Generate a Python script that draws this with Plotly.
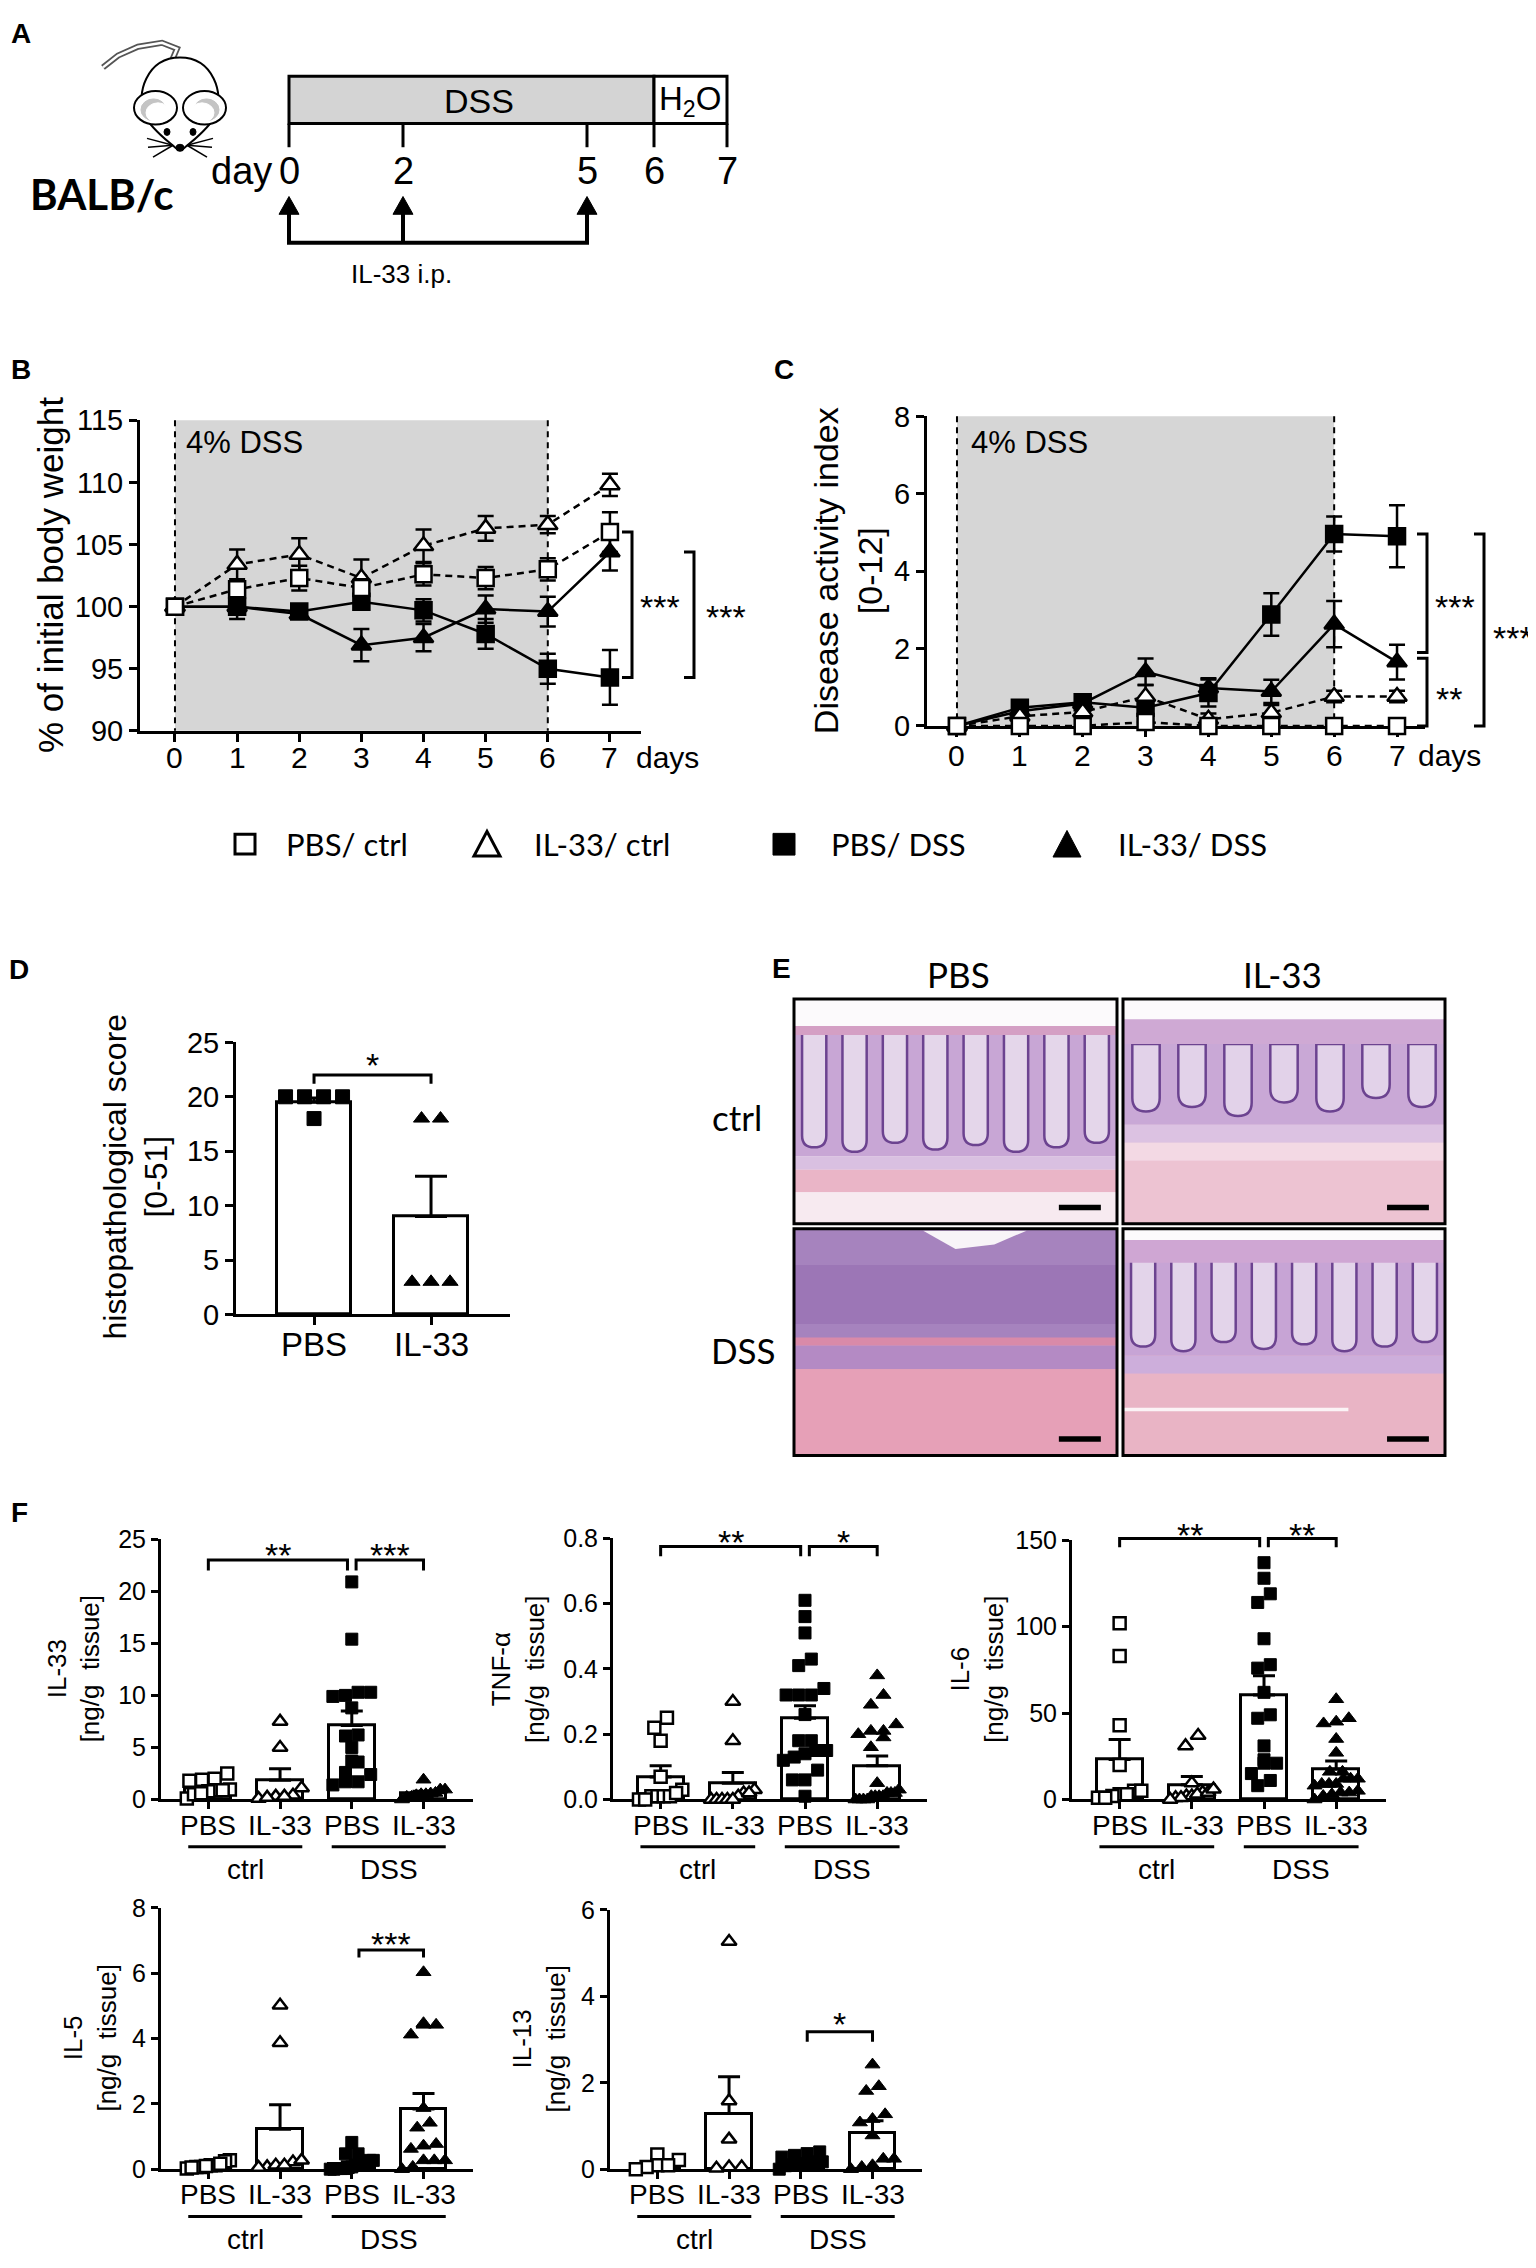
import plotly.graph_objects as go

# ===================== DATA =====================
days = [0, 1, 2, 3, 4, 5, 6, 7]
day_labels = ['0', '1', '2', '3', '4', '5', '6', '7']

# B: % of initial body weight (mean, SEM)
bw_pbs_ctrl = [100, 101.4, 102.3, 101.5, 102.6, 102.3, 103.0, 106.0]
bw_pbs_ctrl_sem = [0, 0.5, 1.0, 0.7, 0.9, 0.9, 0.9, 1.6]
bw_il33_ctrl = [100, 103.4, 104.2, 102.3, 104.9, 106.3, 106.6, 109.8]
bw_il33_ctrl_sem = [0, 1.2, 1.3, 1.5, 1.3, 1.0, 0.7, 0.9]
bw_pbs_dss = [100, 100.0, 99.6, 100.4, 99.7, 97.8, 95.0, 94.3]
bw_pbs_dss_sem = [0, 1.0, 0.3, 0.3, 0.9, 1.2, 1.2, 2.2]
bw_il33_dss = [100, 100.0, 99.4, 96.9, 97.5, 99.8, 99.6, 104.4]
bw_il33_dss_sem = [0, 0.4, 0.3, 1.3, 1.1, 1.1, 1.2, 1.5]

# C: disease activity index (mean, SEM)
dai_pbs_ctrl = [0, 0, 0, 0.1, 0, 0, 0, 0]
dai_pbs_ctrl_sem = [0, 0, 0, 0.1, 0, 0, 0, 0]
dai_il33_ctrl = [0, 0.25, 0.36, 0.76, 0.17, 0.34, 0.76, 0.76]
dai_il33_ctrl_sem = [0, 0.1, 0.15, 0.3, 0.15, 0.2, 0.15, 0.15]
dai_pbs_dss = [0, 0.47, 0.61, 0.47, 0.85, 2.88, 4.96, 4.9]
dai_pbs_dss_sem = [0, 0.1, 0.2, 0.15, 0.35, 0.55, 0.45, 0.8]
dai_il33_dss = [0, 0.38, 0.58, 1.4, 0.98, 0.89, 2.63, 1.65]
dai_il33_dss_sem = [0, 0.1, 0.2, 0.34, 0.25, 0.3, 0.6, 0.45]

# D: histopathological score
hist_labels = ['PBS', 'IL-33']
hist_pbs = [20, 20, 20, 20, 18]
hist_il33 = [18, 18, 3, 3, 3]
hist_mean = [19.5, 9.0]
hist_sem = [0.4, 3.7]

# F: cytokines [ng/g tissue]
f_labels = ['PBS', 'IL-33', 'PBS', 'IL-33']

il33_pbs_ctrl = [2.5, 1.9, 1.8, 2.0, 0.9, 0.8, 0.95, 0.9, 0.1, 0.5, 0.6]
il33_il33_ctrl = [7.5, 5.0, 1.1, 0.4, 0.3, 0.3, 0.1, 0.2]
il33_pbs_dss = [20.9, 15.4, 10.0, 9.9, 10.3, 10.3, 8.8, 6.1, 6.2, 5.0, 3.7, 3.6, 2.6, 2.4, 1.7, 1.4, 1.7]
il33_il33_dss = [1.9, 0.95, 0.95, 0.57, 0.63, 0.4, 0.25, 0.25, 0.0, 0.5, 0.5]
il33_mean = [1.1, 1.85, 7.1, 0.62]
il33_sem = [0.25, 1.1, 1.4, 0.18]

tnf_pbs_ctrl = [0.25, 0.22, 0.18, 0.07, 0.03, 0.01, 0.01, 0.01, 0.01, 0.0, 0.0, 0.02]
tnf_il33_ctrl = [0.30, 0.18, 0.03, 0.02, 0.0, 0.01, 0.02, 0.0, 0.0, 0.0, 0.0]
tnf_pbs_dss = [0.61, 0.56, 0.51, 0.41, 0.43, 0.34, 0.32, 0.32, 0.32, 0.26, 0.18, 0.15, 0.14, 0.15,
               0.18, 0.12, 0.13, 0.09, 0.06, 0.06, 0.01]
tnf_il33_dss = [0.38, 0.32, 0.29, 0.23, 0.21, 0.20, 0.21, 0.19, 0.16, 0.03, 0.05, 0.02, 0.01, 0.02,
                0.02, 0.01, 0.01, 0.01, 0.0, 0.0, 0.0, 0.0]
tnf_mean = [0.069, 0.05, 0.249, 0.103]
tnf_sem = [0.034, 0.033, 0.038, 0.03]

il6_pbs_ctrl = [102, 83, 43, 20, 5, 3, 1, 3, 5, 2, 1]
il6_il33_ctrl = [31, 37, 9.5, 4, 2, 2, 3, 4, 6, 1, 1, 0]
il6_pbs_dss = [137, 128, 119, 114, 93, 78, 76, 62, 49, 47, 31, 21, 23, 21, 15, 11, 8]
il6_il33_dss = [58, 45, 44, 47, 35, 27, 16, 16, 12, 12, 12, 9, 9, 9, 8, 4, 2, 4, 0, 3, 5]
il6_mean = [23.2, 8.5, 60.4, 17.5]
il6_sem = [11.5, 4.8, 11.2, 4.7]

il5_pbs_ctrl = [0.27, 0.24, 0.12, 0.07, 0.12, 0.17, 0.07, 0.02, 0.05, 0.1]
il5_il33_ctrl = [5.02, 3.87, 0.22, 0.27, 0.07, 0.12, 0.12, 0.05]
il5_pbs_dss = [0.82, 0.47, 0.47, 0.27, 0.27, 0.12, 0.17, 0.12, 0.12, 0.02, 0.0, 0.02, 0.07, 0.05, 0.02, 0.0]
il5_il33_dss = [6.03, 4.42, 4.12, 4.42, 4.47, 1.87, 1.27, 1.42, 0.72, 0.62, 0.77, 0.27, 0.27, 0.27, 0.07, 0.0]
il5_mean = [0.12, 1.22, 0.17, 1.84]
il5_sem = [0.03, 0.75, 0.06, 0.48]

il13_pbs_ctrl = [0.34, 0.21, 0.09, 0.05, 0.09, 0.0]
il13_il33_ctrl = [5.27, 1.58, 0.69, 0.05, 0.02, 0.05]
il13_pbs_dss = [0.32, 0.36, 0.4, 0.28, 0.13, 0.13, 0.17, 0.15, 0.17, 0.0, 0.1, 0.08]
il13_il33_dss = [2.42, 1.92, 1.81, 1.27, 1.08, 1.16, 0.78, 0.24, 0.24, 0.05, 0.09, 0.0]
il13_mean = [0.11, 1.29, 0.17, 0.85]
il13_sem = [0.04, 0.85, 0.04, 0.27]

legend_labels = ['PBS/ ctrl', 'IL-33/ ctrl', 'PBS/ DSS', 'IL-33/ DSS']

# ===================== HELPERS =====================
W, H = 1528, 2260
OFF = 8


def X(p):
    return (p - OFF) / W


def Y(p):
    return 1 - (p - OFF) / H


ARIAL = "Liberation Sans, Arial, Helvetica, sans-serif"
CAL = "Lato, Carlito, Calibri, sans-serif"

shapes = []
annotations = []
traces = []
layout_axes = {}
AX = {}


def text(px, py, s, size, family=ARIAL, bold=False, xanchor='center', yanchor='middle', angle=0):
    annotations.append(dict(x=X(px), y=Y(py), xref='paper', yref='paper',
                            text=('<b>' + s + '</b>') if bold else s, showarrow=False,
                            font=dict(family=family, size=size, color='black'),
                            xanchor=xanchor, yanchor=yanchor, textangle=angle))


def stars(px, py, s, size=34):
    text(px, py + 0.22 * size, s, size)


def line(x0, y0, x1, y1, w=3, color='black', dash=None, layer='above'):
    ln = dict(color=color, width=w)
    if dash:
        ln['dash'] = dash
    shapes.append(dict(type='line', xref='paper', yref='paper', x0=X(x0), y0=Y(y0), x1=X(x1), y1=Y(y1),
                       line=ln, layer=layer))


def rect(x0, y0, x1, y1, fill, edge=None, lw=0, layer='above'):
    shapes.append(dict(type='rect', xref='paper', yref='paper', x0=X(x0), x1=X(x1), y0=Y(y1), y1=Y(y0),
                       fillcolor=fill, line=dict(color=edge if edge else 'rgba(0,0,0,0)', width=lw),
                       layer=layer))


def ellipse(x0, y0, x1, y1, fill, edge='black', lw=2):
    shapes.append(dict(type='circle', xref='paper', yref='paper', x0=X(x0), x1=X(x1), y0=Y(y1), y1=Y(y0),
                       fillcolor=fill, line=dict(color=edge, width=lw)))


def path(pts, fill=None, w=3, color='black', close=True, layer='above'):
    d = 'M' + ' L'.join(f'{X(a):.5f},{Y(b):.5f}' for a, b in pts) + (' Z' if close else '')
    shapes.append(dict(type='path', xref='paper', yref='paper', path=d,
                       fillcolor=fill if fill else 'rgba(0,0,0,0)',
                       line=dict(color=color, width=w), layer=layer))


def rawpath(d, fill=None, w=2, color='black'):
    shapes.append(dict(type='path', xref='paper', yref='paper', path=d,
                       fillcolor=fill if fill else 'rgba(0,0,0,0)', line=dict(color=color, width=w)))


def add_axes(n, xdom, ydom, xr, yr, xtv, ytv, ytt, yfont, ticklen=8):
    AX[n] = dict(x=xdom, y=ydom, xr=xr, yr=yr)
    s = '' if n == 1 else str(n)
    common = dict(showline=True, linecolor='black', linewidth=3, ticks='outside', ticklen=ticklen,
                  tickwidth=3, tickcolor='black', showgrid=False, zeroline=False, fixedrange=True,
                  layer='below traces')
    layout_axes['xaxis' + s] = dict(domain=[X(xdom[0]), X(xdom[1])], range=xr, anchor='y' + s,
                                    tickmode='array', tickvals=xtv, showticklabels=False, **common)
    layout_axes['yaxis' + s] = dict(domain=[Y(ydom[1]), Y(ydom[0])], range=yr, anchor='x' + s,
                                    tickmode='array', tickvals=ytv, ticktext=ytt,
                                    tickfont=dict(family=ARIAL, size=yfont, color='black'), **common)


def dx(n, v):
    p0, p1 = AX[n]['x']
    r0, r1 = AX[n]['xr']
    return p0 + (v - r0) / (r1 - r0) * (p1 - p0)


def dy(n, v):
    top, bot = AX[n]['y']
    r0, r1 = AX[n]['yr']
    return bot - (v - r0) / (r1 - r0) * (bot - top)


def xlabels(n, vals, labels, ypx, size):
    for v, lab in zip(vals, labels):
        text(dx(n, v), ypx, lab, size)


def swarm(vals, n, marker_px=12, step_px=None, maxhalf=0.3):
    top, bot = AX[n]['y']
    r0, r1 = AX[n]['yr']
    ppu = (bot - top) / (r1 - r0)
    p0, p1 = AX[n]['x']
    cpx = (p1 - p0) / (AX[n]['xr'][1] - AX[n]['xr'][0])
    bin_units = marker_px * 0.95 / ppu
    step = (step_px if step_px else marker_px * 1.05) / cpx
    order = sorted(range(len(vals)), key=lambda i: vals[i])
    bins, cur = [], []
    for i in order:
        if cur and vals[i] - vals[cur[0]] > bin_units:
            bins.append(cur)
            cur = []
        cur.append(i)
    if cur:
        bins.append(cur)
    offs = [0.0] * len(vals)
    for b in bins:
        k = len(b)
        st = step
        if k > 1 and (k - 1) * step / 2 > maxhalf:
            st = 2 * maxhalf / (k - 1)
        for j, i in enumerate(b):
            offs[i] = (j - (k - 1) / 2) * st
    return offs


# ===================== PANEL A (schematic) =====================
text(9, 18, 'A', 28, bold=True, xanchor='left')
# mouse
path([(172, 45), (177, 33), (162, 27), (138, 31), (118, 40), (103, 52)], w=6, color='#555555', close=False)
path([(172, 45), (177, 33), (162, 27), (138, 31), (118, 40), (103, 52)], w=2.5, color='white', close=False)
rawpath(f"M{X(180)},{Y(42)} C{X(214)},{Y(42)} {X(224)},{Y(80)} {X(216)},{Y(100)} "
        f"C{X(208)},{Y(116)} {X(190)},{Y(128)} {X(182)},{Y(136)} L{X(178)},{Y(136)} "
        f"C{X(170)},{Y(128)} {X(152)},{Y(116)} {X(144)},{Y(100)} C{X(136)},{Y(80)} {X(146)},{Y(42)} {X(180)},{Y(42)} Z",
        fill='white', w=2)
ellipse(134, 76, 177, 110, 'white', lw=2)
ellipse(183, 76, 226, 110, 'white', lw=2)
ellipse(141, 84, 166, 106, '#c4c4c4', edge='#c4c4c4', lw=1)
ellipse(194, 84, 219, 106, '#c4c4c4', edge='#c4c4c4', lw=1)
ellipse(146, 88, 170, 108, 'white', edge='white', lw=1)
ellipse(190, 88, 214, 108, 'white', edge='white', lw=1)
ellipse(164, 114, 170, 121, 'black', lw=1)
ellipse(190, 114, 196, 121, 'black', lw=1)
ellipse(176, 130, 184, 137, 'black', lw=1)
for (ax_, ay_) in [(147, 124), (148, 133), (153, 143)]:
    line(173, 131, ax_, ay_, 1.5)
    line(187, 131, 360 - ax_, ay_, 1.5)
text(102, 180, 'BALB/c', 42, family=CAL, bold=True)

tl_days = ['0', '2', '5', '6', '7']
tl_px = [289, 403, 587, 654, 727]
rect(289, 61, 654, 109, '#d4d4d4', 'black', 3)
rect(654, 61, 727, 109, 'white', 'black', 3)
text(479, 86, 'DSS', 34)
text(690, 86, 'H<sub>2</sub>O', 33)
for xp in tl_px:
    line(xp, 109, xp, 133, 3)
text(274, 157, 'day', 38, xanchor='right')
for lab, xp in zip(tl_days, tl_px):
    text(xp, 157, lab, 38)
for xp in tl_px[:3]:
    line(xp, 198, xp, 231, 4)
    path([(xp - 10, 201), (xp + 10, 201), (xp, 183)], fill='black', w=1)
line(287, 230, 589, 230, 4)
text(402, 262, 'IL-33 i.p.', 26)

# ===================== PANEL B =====================
text(9, 358, 'B', 28, bold=True, xanchor='left')
add_axes(1, (140, 641), (410, 725), [-0.563, 7.5], [90, 115], days,
         [90, 95, 100, 105, 110, 115], ['90', '95', '100', '105', '110', '115'], 29)
xlabels(1, days, day_labels, 752, 30)
rect(dx(1, 0), dy(1, 115), dx(1, 6), dy(1, 90), '#d6d6d6', layer='below')
line(dx(1, 0), dy(1, 115), dx(1, 0), dy(1, 90), 2, dash='6px,5px', layer='below')
line(dx(1, 6), dy(1, 115), dx(1, 6), dy(1, 90), 2, dash='6px,5px', layer='below')
text(184, 433, '4% DSS', 31, xanchor='left')
text(667, 752, 'days', 30)
text(50, 567, '% of initial body weight', 35, angle=-90)


def course(xa, ya, y, e, symbol, filled, dash):
    e2 = [v if v > 0 else None for v in e]
    return go.Scatter(x=days, y=y, xaxis=xa, yaxis=ya, mode='lines+markers',
                      line=dict(color='black', width=2.5, dash='7px,5px' if dash else 'solid'),
                      marker=dict(symbol=symbol, size=16 if symbol == 'square' else 17,
                                  color='black' if filled else 'white', line=dict(color='black', width=2.5)),
                      error_y=dict(type='data', array=e2, visible=True, color='black', thickness=2.5, width=8),
                      cliponaxis=False, showlegend=False, hoverinfo='skip')


traces += [course('x', 'y', bw_pbs_dss, bw_pbs_dss_sem, 'square', True, False),
           course('x', 'y', bw_il33_dss, bw_il33_dss_sem, 'triangle-up', True, False),
           course('x', 'y', bw_il33_ctrl, bw_il33_ctrl_sem, 'triangle-up', False, True),
           course('x', 'y', bw_pbs_ctrl, bw_pbs_ctrl_sem, 'square', False, True)]


def vbracket(n, xpx, v0, v1, tick=10):
    path([(xpx - tick, dy(n, v0)), (xpx, dy(n, v0)), (xpx, dy(n, v1)), (xpx - tick, dy(n, v1))],
         w=3, close=False)


vbracket(1, 632, bw_pbs_ctrl[-1], bw_pbs_dss[-1])
stars(660, 592, '***')
vbracket(1, 694, bw_il33_dss[-1], bw_pbs_dss[-1])
stars(726, 602, '***')

# ===================== PANEL C =====================
text(772, 358, 'C', 28, bold=True, xanchor='left')
add_axes(2, (927, 1425), (406, 720), [-0.477, 7.445], [0, 8], days,
         [0, 2, 4, 6, 8], ['0', '2', '4', '6', '8'], 29)
xlabels(2, days, day_labels, 750, 30)
rect(dx(2, 0), dy(2, 8), dx(2, 6), dy(2, 0), '#d6d6d6', layer='below')
line(dx(2, 0), dy(2, 8), dx(2, 0), dy(2, 0), 2, dash='6px,5px', layer='below')
line(dx(2, 6), dy(2, 8), dx(2, 6), dy(2, 0), 2, dash='6px,5px', layer='below')
text(969, 433, '4% DSS', 31, xanchor='left')
text(1449, 750, 'days', 30)
text(848, 563, 'Disease activity index<br>[0-12]', 34, angle=-90)

traces += [course('x2', 'y2', dai_pbs_dss, dai_pbs_dss_sem, 'square', True, False),
           course('x2', 'y2', dai_il33_dss, dai_il33_dss_sem, 'triangle-up', True, False),
           course('x2', 'y2', dai_il33_ctrl, dai_il33_ctrl_sem, 'triangle-up', False, True),
           course('x2', 'y2', dai_pbs_ctrl, dai_pbs_ctrl_sem, 'square', False, True)]

vbracket(2, 1427, dai_pbs_dss[-2], dai_il33_dss[-1] + 0.25)
stars(1455, 592, '***')
vbracket(2, 1427, dai_il33_dss[-1] + 0.1, 0)
stars(1449, 685, '**')
vbracket(2, 1484, dai_pbs_dss[-2], 0)
stars(1513, 623, '***')

# ===================== LEGEND =====================
leg_sym_px = [245, 487, 784, 1067]
leg_txt_px = [284, 532, 829, 1116]
ly = 840
rect(leg_sym_px[0] - 10, ly - 10, leg_sym_px[0] + 10, ly + 10, 'white', 'black', 3)
path([(leg_sym_px[1] - 13, ly + 12), (leg_sym_px[1] + 13, ly + 12), (leg_sym_px[1], ly - 13)], fill='white', w=3)
rect(leg_sym_px[2] - 11, ly - 11, leg_sym_px[2] + 11, ly + 11, 'black', 'black', 1)
path([(leg_sym_px[3] - 14, ly + 13), (leg_sym_px[3] + 14, ly + 13), (leg_sym_px[3], ly - 14)], fill='black', w=1)
for lab, xp in zip(legend_labels, leg_txt_px):
    text(xp, ly, lab, 31, family=CAL, xanchor='left')

# ===================== PANEL D =====================
text(7, 967, 'D', 28, bold=True, xanchor='left')
add_axes(3, (236, 510), (1041, 1317), [-0.667, 1.675], [0, 25], [0, 1],
         [0, 5, 10, 15, 20, 25], ['0', '5', '10', '15', '20', '25'], 29)
xlabels(3, [0, 1], hist_labels, 1347, 33)
text(136, 1177, 'histopathological score<br>[0-51]', 32, angle=-90)
traces.append(go.Bar(x=[0, 1], y=hist_mean, width=0.64, xaxis='x3', yaxis='y3',
                     marker=dict(color='white', line=dict(color='black', width=3)),
                     error_y=dict(type='data', symmetric=False, array=hist_sem, arrayminus=[0, 0],
                                  color='black', thickness=3, width=16),
                     showlegend=False, hoverinfo='skip'))
for gi, (vals, sym) in enumerate([(hist_pbs, 'square'), (hist_il33, 'triangle-up')]):
    offs = swarm(vals, 3, marker_px=14, step_px=19)
    traces.append(go.Scatter(x=[gi + o for o in offs], y=vals, xaxis='x3', yaxis='y3', mode='markers',
                             marker=dict(symbol=sym, size=14, color='black', line=dict(color='black', width=1)),
                             cliponaxis=False, showlegend=False, hoverinfo='skip'))
path([(dx(3, 0), dy(3, 21.2)), (dx(3, 0), dy(3, 22)), (dx(3, 1), dy(3, 22)), (dx(3, 1), dy(3, 21.2))],
     w=3, close=False)
stars(dx(3, 0.5), dy(3, 23.6), '*')

# ===================== PANEL E (histology placeholders) =====================
text(770, 966, 'E', 28, bold=True, xanchor='left')
text(958, 972, 'PBS', 35, family=CAL)
text(1282, 972, 'IL-33', 35, family=CAL)
text(737, 1117, 'ctrl', 35, family=CAL)
text(743, 1353, 'DSS', 35, family=CAL)


def crypts(bx0, by0, bw, bh, n, vt, vbs, cwf, fill, edge):
    for i in range(n):
        cx = bx0 + (i + 0.5) * bw / n
        cw = cwf * bw
        l, r = cx - cw / 2, cx + cw / 2
        top = by0 + vt * bh
        bot = by0 + vbs[i % len(vbs)] * bh
        d = (f"M{X(l):.5f},{Y(top):.5f} L{X(l):.5f},{Y(bot - cw / 2):.5f} "
             f"Q{X(l):.5f},{Y(bot):.5f} {X(cx):.5f},{Y(bot):.5f} "
             f"Q{X(r):.5f},{Y(bot):.5f} {X(r):.5f},{Y(bot - cw / 2):.5f} L{X(r):.5f},{Y(top):.5f} Z")
        shapes.append(dict(type='path', xref='paper', yref='paper', path=d, fillcolor=fill,
                           line=dict(color=edge, width=2.5)))


def histo(x0, y0, x1, y1, kind):
    w, h = x1 - x0, y1 - y0

    def R(u0, v0, u1, v1, col):
        rect(x0 + u0 * w, y0 + v0 * h, x0 + u1 * w, y0 + v1 * h, col)

    if kind == 'pbs_ctrl':
        R(0, 0, 1, 1, '#f6e9ef')
        R(0, 0.13, 1, 0.70, '#c8a6d5')
        crypts(x0, y0, w, h, 8, 0.15, [0.66, 0.68, 0.64, 0.67, 0.65, 0.68, 0.66, 0.64], 0.075, '#e4d6ea', '#6c4390')
        R(0, 0.0, 1, 0.13, '#fcfafc')
        R(0, 0.12, 1, 0.16, '#d49fc4')
        R(0, 0.70, 1, 0.76, '#d9c0e1')
        R(0, 0.76, 1, 0.86, '#eab5c7')
        R(0, 0.86, 1, 1, '#f7eaf0')
    elif kind == 'il33_ctrl':
        R(0, 0, 1, 1, '#f0ccd9')
        R(0, 0.10, 1, 0.56, '#c9a8d6')
        crypts(x0, y0, w, h, 7, 0.2, [0.50, 0.48, 0.52, 0.46, 0.50, 0.44, 0.48], 0.085, '#e2d2e9', '#6c4390')
        R(0, 0.0, 1, 0.10, '#fcfafc')
        R(0, 0.09, 1, 0.2, '#cfa9d4')
        R(0, 0.56, 1, 0.64, '#dcc2e2')
        R(0, 0.64, 1, 0.72, '#f3d9e4')
        R(0, 0.72, 1, 1, '#edc3d2')
    elif kind == 'pbs_dss':
        R(0, 0, 1, 1, '#e7a1b8')
        R(0, 0, 1, 0.5, '#a683be')
        path([(x0 + 0.40 * w, y0 + 2), (x0 + 0.72 * w, y0 + 2), (x0 + 0.62 * w, y0 + 0.07 * h),
              (x0 + 0.50 * w, y0 + 0.09 * h)], fill='#f8f4f8', w=0, color='#f8f4f8')
        R(0, 0.16, 1, 0.42, '#9c76b6')
        R(0, 0.48, 1, 0.515, '#d98aa9')
        R(0, 0.515, 1, 0.62, '#b48ac4')
        R(0, 0.62, 1, 1, '#e6a0b7')
    else:
        R(0, 0, 1, 1, '#e9b5c6')
        R(0, 0.06, 1, 0.56, '#c7a4d5')
        crypts(x0, y0, w, h, 8, 0.14, [0.52, 0.54, 0.50, 0.53, 0.51, 0.54, 0.52, 0.50], 0.075, '#e3d4ea', '#6c4390')
        R(0, 0.0, 1, 0.06, '#fcfafc')
        R(0, 0.05, 1, 0.15, '#cfa6d3')
        R(0, 0.56, 1, 0.64, '#cdaedb')
        R(0, 0.64, 1, 1, '#e9b4c5')
        R(0, 0.79, 0.7, 0.805, '#fbf3f6')
    R(0.82, 0.915, 0.95, 0.94, 'black')
    rect(x0, y0, x1, y1, 'rgba(0,0,0,0)', 'black', 3)


histo(794, 997, 1117, 1225, 'pbs_ctrl')
histo(1123, 997, 1445, 1225, 'il33_ctrl')
histo(794, 1230, 1117, 1460, 'pbs_dss')
histo(1123, 1230, 1445, 1460, 'il33_dss')

# ===================== PANEL F =====================
text(9, 1518, 'F', 28, bold=True, xanchor='left')
FXR = [-0.66, 3.69]


def cyto(n, xdom, ydom, yr, ytv, ytt, title, title_px, groups, mean, sem, brackets):
    add_axes(n, xdom, ydom, FXR, yr, [0, 1, 2, 3], ytv, ytt, 25, ticklen=7)
    yb = ydom[1]
    xlabels(n, [0, 1, 2, 3], f_labels, yb + 26, 28)
    s = str(n)
    traces.append(go.Bar(x=[0, 1, 2, 3], y=mean, width=0.64, xaxis='x' + s, yaxis='y' + s,
                         marker=dict(color='white', line=dict(color='black', width=3)),
                         error_y=dict(type='data', symmetric=False, array=sem, arrayminus=[0, 0, 0, 0],
                                      color='black', thickness=3, width=11),
                         showlegend=False, hoverinfo='skip'))
    syms = [('square', False), ('triangle-up', False), ('square', True), ('triangle-up', True)]
    for gi, vals in enumerate(groups):
        sym, filled = syms[gi]
        offs = swarm(vals, n, marker_px=12)
        traces.append(go.Scatter(x=[gi + o for o in offs], y=vals, xaxis='x' + s, yaxis='y' + s, mode='markers',
                                 marker=dict(symbol=sym, size=12 if sym == 'square' else 13,
                                             color='black' if filled else 'white',
                                             line=dict(color='black', width=2.5 if not filled else 1)),
                                 cliponaxis=False, showlegend=False, hoverinfo='skip'))
    text(title_px, (ydom[0] + ydom[1]) / 2, title, 26, angle=-90)
    for c0, c1, lab in [(-0.28, 1.31, 'ctrl'), (1.72, 3.31, 'DSS')]:
        line(dx(n, c0), yb + 48, dx(n, c1), yb + 48, 3)
        text((dx(n, c0) + dx(n, c1)) / 2, yb + 71, lab, 28)
    for c0, c1, yv, yt, lab, ys in brackets:
        path([(dx(n, c0), dy(n, yt)), (dx(n, c0), dy(n, yv)), (dx(n, c1), dy(n, yv)), (dx(n, c1), dy(n, yt))],
             w=3, close=False)
        stars((dx(n, c0) + dx(n, c1)) / 2, dy(n, ys), lab)


UNIT = '[ng/g\u00a0\u00a0tissue]'
cyto(4, (161, 473), (1545, 1809), [0, 25], [0, 5, 10, 15, 20, 25], ['0', '5', '10', '15', '20', '25'],
     'IL-33<br>' + UNIT, 74, [il33_pbs_ctrl, il33_il33_ctrl, il33_pbs_dss, il33_il33_dss], il33_mean, il33_sem,
     [(0, 1.94, 23.0, 22.0, '**', 24.2), (2.06, 3, 23.0, 22.0, '***', 24.2)])
cyto(5, (613, 927), (1544, 1809), [0, 0.8], [0, 0.2, 0.4, 0.6, 0.8], ['0.0', '0.2', '0.4', '0.6', '0.8'],
     'TNF-\u03b1<br>' + UNIT, 518, [tnf_pbs_ctrl, tnf_il33_ctrl, tnf_pbs_dss, tnf_il33_dss], tnf_mean, tnf_sem,
     [(0, 1.94, 0.775, 0.745, '**', 0.81), (2.06, 3, 0.775, 0.745, '*', 0.81)])
cyto(6, (1072, 1386), (1546, 1809), [0, 150], [0, 50, 100, 150], ['0', '50', '100', '150'],
     'IL-6<br>' + UNIT, 977, [il6_pbs_ctrl, il6_il33_ctrl, il6_pbs_dss, il6_il33_dss], il6_mean, il6_sem,
     [(0, 1.94, 151, 146, '**', 157), (2.06, 3, 151, 146, '**', 157)])
cyto(7, (161, 473), (1919, 2184), [0, 8], [0, 2, 4, 6, 8], ['0', '2', '4', '6', '8'],
     'IL-5<br>' + UNIT, 90, [il5_pbs_ctrl, il5_il33_ctrl, il5_pbs_dss, il5_il33_dss], il5_mean, il5_sem,
     [(2.1, 3, 6.71, 6.48, '***', 7.13)])
cyto(8, (610, 922), (1921, 2184), [0, 6], [0, 2, 4, 6], ['0', '2', '4', '6'],
     'IL-13<br>' + UNIT, 539, [il13_pbs_ctrl, il13_il33_ctrl, il13_pbs_dss, il13_il33_dss], il13_mean, il13_sem,
     [(2.09, 3, 3.18, 2.95, '*', 3.52)])

# ===================== FIGURE =====================
fig = go.Figure(data=traces)
fig.update_layout(width=W, height=H, margin=dict(l=0, r=0, t=0, b=0), paper_bgcolor='white',
                  plot_bgcolor='white', showlegend=False, shapes=shapes, annotations=annotations,
                  bargap=0, **layout_axes)
fig.write_html("out.html")
